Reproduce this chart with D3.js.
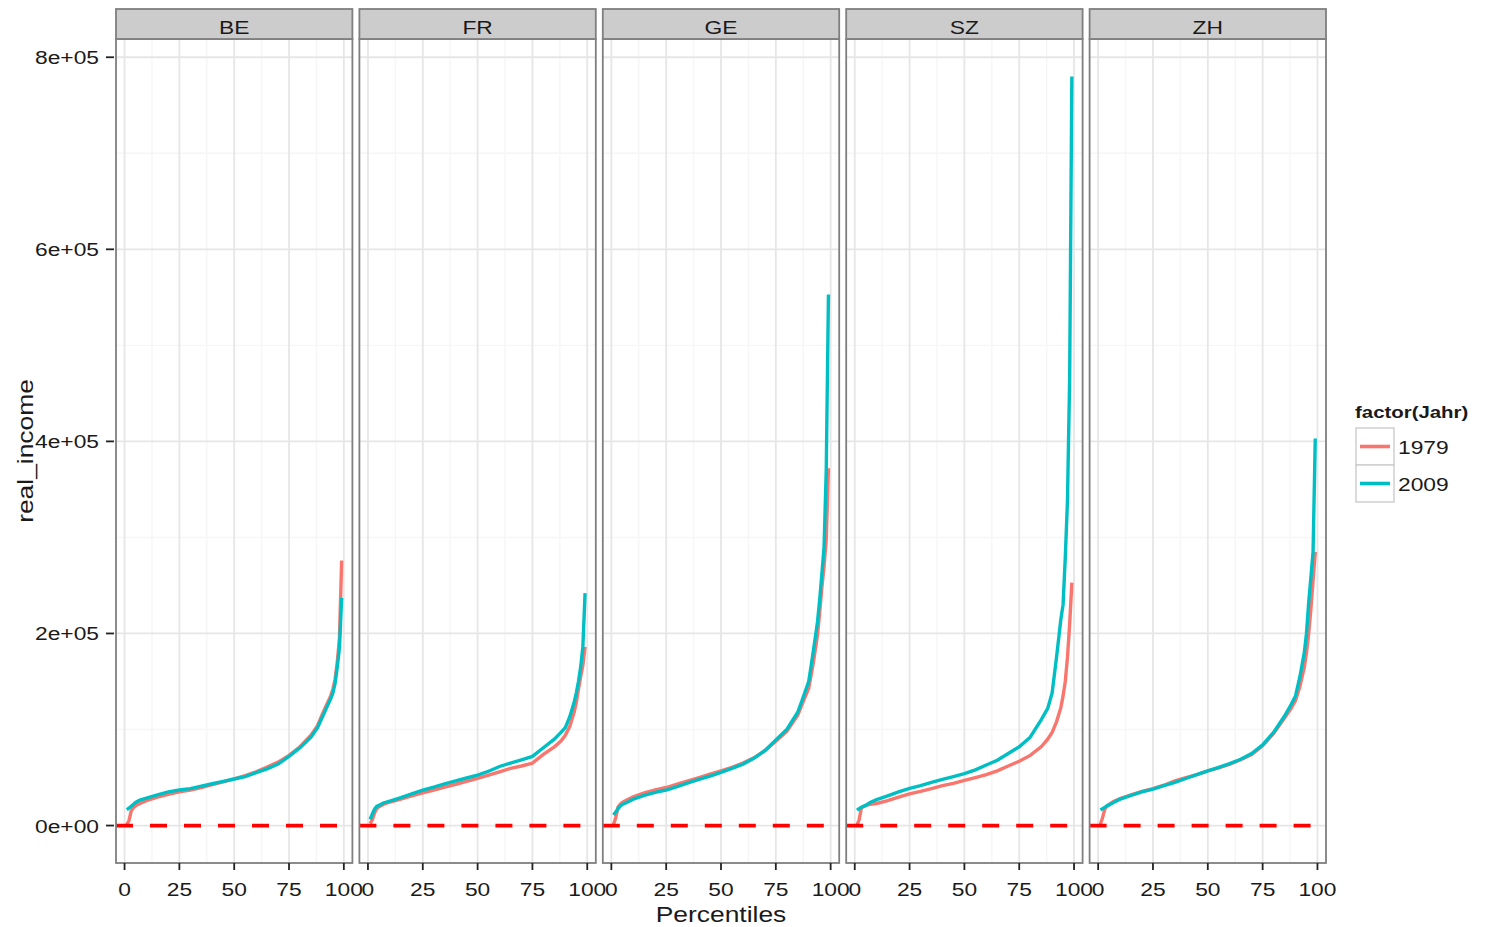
<!DOCTYPE html>
<html>
<head>
<meta charset="utf-8">
<script src="https://cdn.jsdelivr.net/npm/d3@7"></script>
<style>
  body { margin: 0; background: #fff; }
  svg { font-family: 'Liberation Sans', Arial, sans-serif; }
</style>
</head>
<body>
<svg width="1485" height="927"></svg>
<script>
/* global d3:true */

const regions = ['BE', 'FR', 'GE', 'SZ', 'ZH']
const years = ['1979', '2009']
const yearColors = ['#F8766D', '#00BFC4']

// percentile positions
const percentiles = [1, 2, 3, 4, 5, 7, 10, 15, 20, 25, 30, 35, 40, 45, 50, 55, 60, 65, 70, 75, 80, 85, 88, 90, 92, 94, 95, 96, 97, 98, 99]

// real income (in 1000s) per percentile
const be1979 = [1, 5, 15, 18.5, 20.5, 23, 26, 29.5, 32.5, 35, 37, 39.5, 42.5, 45.5, 48.5, 52, 56, 61, 66, 73, 82, 94, 104, 115, 125, 135, 142, 152, 170, 195, 276]
const be2009 = [16.5, 18, 20, 22, 24, 26.5, 28.5, 32, 35, 37, 38.5, 41, 43.5, 46, 48.5, 51, 55, 59, 64, 72, 81, 92, 102, 112, 122, 132, 138, 148, 165, 185, 237]
const fr1979 = [2, 6, 13, 17.5, 19.5, 22, 24.5, 27.5, 31, 34, 37, 40, 43, 46, 49, 52.5, 56, 59.5, 62, 65, 74, 82, 88, 94, 103, 118, 128, 142, 155, 167, 186]
const fr2009 = [6.3, 12, 17, 20, 21, 23.5, 25.5, 29, 33, 36.8, 40, 43.5, 46.5, 49.5, 52.6, 56.5, 61.5, 65, 68.5, 72, 81, 90, 97, 102, 113, 128, 138, 150, 165, 186, 242]
const ge1979 = [1, 8, 19, 22, 24, 26.5, 30, 34, 37, 39.6, 43, 46.5, 50, 53.5, 57, 60.5, 65, 70.5, 78, 87.7, 98, 115, 132, 143, 168, 198, 222, 248, 270, 298, 372]
const ge2009 = [11, 14, 17.5, 20, 22, 24, 27.5, 31.5, 34.5, 37, 40.5, 44.5, 48, 51.5, 55.4, 59.5, 64, 70, 78, 89, 100, 118, 137, 150, 180, 212, 235, 262, 290, 371, 553]
const sz1979 = [0.5, 6, 18, 20, 21, 22, 23, 26, 29.5, 33, 35.5, 38.5, 41.5, 44, 47, 50, 53, 57, 62, 67, 73, 82, 90, 97, 108, 123, 135, 150, 175, 210, 253]
const sz2009 = [16, 17.5, 19, 20, 21, 24, 27, 31, 35, 38.6, 41.5, 45, 48, 51, 54, 58, 63, 68, 75, 82, 92, 110, 122, 138, 175, 215, 230, 279, 338, 466, 780]
const zh1979 = [1, 8, 17, 20, 22, 25, 28, 32, 35.5, 38.5, 42, 46.5, 50, 53, 57, 60, 64, 68.5, 74, 83, 96, 112, 122, 130, 145, 165, 180, 200, 225, 255, 285]
const zh2009 = [16.5, 17.5, 19, 20.5, 21.5, 24, 27.5, 31.5, 35, 38, 41.5, 45, 49, 53, 57, 60.5, 64.5, 69, 75, 84, 97, 114, 126, 135, 155, 180, 200, 232, 258, 285, 403]

const xTicks = [0, 25, 50, 75, 100]
const xMinor = [12.5, 37.5, 62.5, 87.5]
const yTicks = [0, 200000, 400000, 600000, 800000]
const yTickLabels = ['0e+00', '2e+05', '4e+05', '6e+05', '8e+05']
const yMinor = [100000, 300000, 500000, 700000]
const hlineValue = 0

const seriesByRegion = {
  BE: [be1979, be2009],
  FR: [fr1979, fr2009],
  GE: [ge1979, ge2009],
  SZ: [sz1979, sz2009],
  ZH: [zh1979, zh2009]
}

const svg = d3.select('svg')
const plotLeft = 116
const plotRight = 1326
const stripTop = 9
const stripH = 30
const panelTop = stripTop + stripH
const panelBottom = 863
const gap = 7
const panelW = (plotRight - plotLeft - gap * (regions.length - 1)) / regions.length
const stretch = 1.2 // the reference glyphs run wide

// text helper: wide glyphs like the original render
const label = (parent, px, py, str, size, anchor, opts = {}) => {
  const rot = opts.rotate ? ' rotate(' + opts.rotate + ')' : ''
  return parent.append('text')
    .attr('transform', 'translate(' + px + ',' + py + ')' + rot + ' scale(' + stretch + ',1)')
    .attr('text-anchor', anchor)
    .attr('font-size', size)
    .attr('font-weight', opts.bold ? 'bold' : null)
    .attr('fill', opts.fill || '#1a1a1a')
    .text(str)
}

// ggplot-like 5% expansion
const expand = (lo, hi) => {
  const d = (hi - lo) * 0.05
  return [lo - d, hi + d]
}
const allVals = []
regions.forEach((r) => seriesByRegion[r].forEach((s) => s.forEach((v) => allVals.push(v * 1000))))
const yMax = d3.max(allVals)
const yMin = Math.min(d3.min(allVals), hlineValue)

const x = d3.scaleLinear().domain(expand(d3.min(percentiles), d3.max(percentiles))).range([0, panelW])
const y = d3.scaleLinear().domain(expand(yMin, yMax)).range([panelBottom, panelTop])

const line = d3.line()
  .x((d) => x(d[0]))
  .y((d) => y(d[1]))

regions.forEach((region, i) => {
  const left = plotLeft + i * (panelW + gap)
  const g = svg.append('g').attr('transform', 'translate(' + left + ',0)')

  // grid
  g.selectAll('.xminor').data(xMinor).enter().append('line')
    .attr('x1', (d) => x(d)).attr('x2', (d) => x(d))
    .attr('y1', panelTop).attr('y2', panelBottom)
    .attr('stroke', '#F6F6F6').attr('stroke-width', 1.4)
  g.selectAll('.yminor').data(yMinor).enter().append('line')
    .attr('x1', 0).attr('x2', panelW)
    .attr('y1', (d) => y(d)).attr('y2', (d) => y(d))
    .attr('stroke', '#F6F6F6').attr('stroke-width', 1.4)
  g.selectAll('.xmajor').data(xTicks).enter().append('line')
    .attr('x1', (d) => x(d)).attr('x2', (d) => x(d))
    .attr('y1', panelTop).attr('y2', panelBottom)
    .attr('stroke', '#E6E6E6').attr('stroke-width', 1.8)
  g.selectAll('.ymajor').data(yTicks).enter().append('line')
    .attr('x1', 0).attr('x2', panelW)
    .attr('y1', (d) => y(d)).attr('y2', (d) => y(d))
    .attr('stroke', '#E6E6E6').attr('stroke-width', 1.8)

  // series lines
  seriesByRegion[region].forEach((vals, k) => {
    const pts = percentiles.map((p, j) => [p, vals[j] * 1000])
    g.append('path')
      .datum(pts)
      .attr('fill', 'none')
      .attr('stroke', yearColors[k])
      .attr('stroke-width', 3.4)
      .attr('d', line)
  })

  // dashed hline at 0
  g.append('line')
    .attr('x1', 0).attr('x2', panelW)
    .attr('y1', y(hlineValue)).attr('y2', y(hlineValue))
    .attr('stroke', '#FF0000').attr('stroke-width', 3.8)
    .attr('stroke-dasharray', '17,17')

  // panel border
  g.append('rect')
    .attr('x', 0).attr('y', panelTop)
    .attr('width', panelW).attr('height', panelBottom - panelTop)
    .attr('fill', 'none').attr('stroke', '#7F7F7F').attr('stroke-width', 1.8)

  // strip
  g.append('rect')
    .attr('x', 0).attr('y', stripTop)
    .attr('width', panelW).attr('height', stripH)
    .attr('fill', '#CCCCCC').attr('stroke', '#7F7F7F').attr('stroke-width', 1.8)
  label(g, panelW / 2, stripTop + 25, region, 19, 'middle')

  // x axis
  const xa = g.append('g').attr('transform', 'translate(0,' + panelBottom + ')')
  xa.selectAll('line').data(xTicks).enter().append('line')
    .attr('x1', (d) => x(d)).attr('x2', (d) => x(d))
    .attr('y1', 0).attr('y2', 7)
    .attr('stroke', '#222').attr('stroke-width', 1.8)
  xTicks.forEach((t) => label(xa, x(t), 33, t, 19, 'middle'))

  // y axis on first panel
  if (i === 0) {
    const ya = g.append('g')
    ya.selectAll('line').data(yTicks).enter().append('line')
      .attr('x1', -10).attr('x2', -2)
      .attr('y1', (d) => y(d)).attr('y2', (d) => y(d))
      .attr('stroke', '#222').attr('stroke-width', 1.8)
    yTicks.forEach((t, j) => label(ya, -17, y(t) + 7, yTickLabels[j], 19, 'end'))
  }
})

// axis titles
label(svg, (plotLeft + plotRight) / 2, 922, 'Percentiles', 22, 'middle')
label(svg, 33, (panelTop + panelBottom) / 2, 'real_income', 22, 'middle', { rotate: -90 })

// legend
const legend = svg.append('g').attr('transform', 'translate(1356,0)')
label(legend, -1, 418, 'factor(Jahr)', 17, 'start', { bold: true })

years.forEach((yr, k) => {
  const top = 428 + k * 37
  legend.append('rect')
    .attr('x', 0).attr('y', top)
    .attr('width', 38).attr('height', 37)
    .attr('fill', '#fff').attr('stroke', '#CCCCCC').attr('stroke-width', 1.4)
  legend.append('line')
    .attr('x1', 4).attr('x2', 34)
    .attr('y1', top + 18.5).attr('y2', top + 18.5)
    .attr('stroke', yearColors[k]).attr('stroke-width', 3.6)
  label(legend, 42, top + 26, yr, 19, 'start')
})
</script>
</body>
</html>
